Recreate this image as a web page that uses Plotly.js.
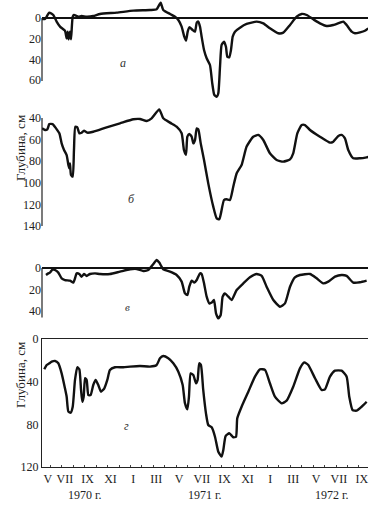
<!DOCTYPE html>
<html>
<head>
<meta charset="utf-8">
<script src="https://cdn.plot.ly/plotly-3.0.1.min.js"></script>
<style>html,body{margin:0;padding:0;background:#fff;}#chart{width:372px;height:510px;}</style>
</head>
<body>
<div id="chart"></div>
<script>
// x: months since May 1970 (0 = V 1970)
const xA = [0, 0.26, 0.64, 0.99, 1.28, 1.58, 2.01, 2.16, 2.25, 2.33, 2.45, 2.54, 2.69, 2.80, 3.18, 3.47, 3.91, 4.49, 5.08, 6.54, 8.0, 9.46, 10.04, 10.39, 10.62, 11.21, 11.65, 11.94, 12.23, 12.46, 12.61, 12.76, 12.9, 13.19, 13.4, 13.55, 13.69, 13.84, 13.98, 14.19, 14.42, 14.71, 14.91, 15.09, 15.3, 15.44, 15.59, 15.73, 15.94, 16.11, 16.23, 16.4, 16.55, 16.7, 16.9, 17.34, 17.92, 18.8, 19.38, 19.96, 20.69, 21.13, 21.72, 22.3, 22.74, 23.18, 23.76, 24.34, 24.93, 25.51, 26.09, 26.39, 26.68, 27.12, 27.41, 27.85, 28.28, 28.57];
const depthA = [1.0, 1.0, -5.2, -2.9, 3.5, 8.4, 12.3, 19.7, 13.2, 20.6, 13.2, 20.6, -1.3, -2.9, -1.3, -1.9, -1.3, -1.9, -3.9, -5.2, -7.1, -7.7, -8.4, -14.8, -7.7, -3.9, -1.3, 1.9, 8.4, 18.1, 21.9, 13.2, 9.0, 11.6, 13.2, 4.5, 3.5, 8.4, 18.1, 31, 39, 45.5, 63.2, 74.5, 76.2, 72.9, 47.1, 26.1, 22.9, 27.8, 37.4, 38.1, 31, 18.1, 13.2, 9.4, 5.8, 3.5, 5.2, 10, 14.8, 14.2, 6.8, -1.3, -3.9, -2.9, 1.3, 5.2, 7.7, 6.8, 4.5, 3.5, 6.8, 13.2, 14.8, 13.9, 12.3, 10.0];

const xB = [0, 0.26, 0.47, 0.64, 0.93, 1.23, 1.52, 1.72, 1.93, 2.16, 2.31, 2.39, 2.45, 2.54, 2.69, 2.80, 2.92, 3.09, 3.27, 3.47, 3.68, 3.97, 4.49, 5.66, 6.83, 8.0, 8.58, 9.17, 9.6, 10.27, 10.62, 11.21, 11.79, 12.23, 12.43, 12.61, 12.73, 12.9, 13.11, 13.25, 13.4, 13.55, 13.69, 13.9, 14.19, 14.56, 15.0, 15.3, 15.53, 15.67, 15.94, 16.17, 16.46, 16.75, 17.05, 17.48, 17.92, 18.5, 18.94, 19.38, 19.96, 20.55, 21.13, 21.72, 22.0, 22.36, 22.74, 23.03, 23.47, 24.34, 25.22, 25.51, 25.95, 26.24, 26.53, 26.82, 27.26, 27.85, 28.43, 28.72];
const depthB = [49.6, 51.1, 50.5, 45.6, 45.6, 49.6, 54.2, 63.5, 69.6, 74.3, 83.5, 86.6, 82, 92.8, 94.3, 69.6, 48, 48.6, 54.2, 53.6, 51.7, 53.6, 52.7, 48.6, 44.9, 41.2, 40.9, 42.8, 40.3, 32, 40.3, 44.3, 48, 54.2, 69.6, 74, 57.3, 54.8, 57.3, 63.5, 60.4, 49.6, 50.5, 63.5, 78.9, 100.5, 122.1, 132.9, 133.8, 128.3, 115.9, 115.3, 115.9, 103.6, 91.2, 83.5, 66.5, 57.3, 55.7, 60.4, 72.7, 78.9, 80.4, 78.3, 72.7, 54.2, 46.5, 46.5, 51.1, 57.3, 62.8, 61.9, 56.7, 55.7, 58.8, 69.6, 77.3, 77.3, 76.4, 75.7];

const xV = [0.35, 0.55, 0.70, 0.93, 1.14, 1.43, 1.72, 2.01, 2.45, 2.74, 2.89, 3.03, 3.27, 3.47, 3.68, 3.91, 4.2, 4.64, 5.08, 5.95, 6.83, 7.71, 8.29, 8.87, 9.31, 9.75, 10.04, 10.27, 10.62, 11.21, 11.79, 12.23, 12.52, 12.73, 12.9, 13.11, 13.34, 13.55, 13.84, 13.98, 14.19, 14.42, 14.65, 14.86, 15.06, 15.24, 15.44, 15.65, 15.82, 16.02, 16.32, 16.61, 17.05, 17.63, 18.21, 18.8, 19.24, 19.67, 20.26, 20.84, 21.28, 21.72, 22.15, 22.59, 23.47, 24.05, 24.63, 25.07, 25.66, 26.24, 26.68, 27.26, 27.85, 28.43];
const depthV = [6.5, 5.0, 4.3, 1.2, 1.9, 4.3, 9.6, 11.2, 11.8, 13.6, 9.6, 5.0, 5.6, 8.1, 5.6, 7.4, 5.6, 5.0, 5.6, 5.6, 3.4, 1.2, 0.9, 2.8, 1.9, -3.7, -7.4, -5.0, 1.2, 3.4, 6.5, 12.7, 23.6, 25.1, 17.4, 11.8, 13.6, 11.2, 5.0, 5.6, 14.3, 26.7, 32.9, 32.2, 29.8, 42.2, 46.8, 43.7, 26.7, 23.6, 26.7, 29.8, 20.5, 14.3, 8.7, 5.6, 7.4, 17.4, 29.8, 36.0, 32.9, 17.4, 8.7, 6.5, 5.6, 9.6, 14.3, 12.7, 8.1, 6.5, 7.4, 13.6, 13.3, 11.8];

const xG = [0.2, 0.41, 0.64, 0.85, 1.14, 1.43, 1.72, 2.01, 2.16, 2.31, 2.51, 2.69, 2.89, 3.09, 3.27, 3.42, 3.53, 3.65, 3.77, 3.91, 4.06, 4.26, 4.49, 4.7, 4.93, 5.17, 5.46, 5.72, 5.95, 6.39, 7.12, 7.71, 8.58, 9.46, 10.04, 10.33, 10.62, 11.06, 11.5, 11.94, 12.32, 12.52, 12.73, 12.87, 13.02, 13.25, 13.49, 13.63, 13.77, 13.92, 14.12, 14.36, 14.56, 14.86, 15.15, 15.44, 15.73, 15.88, 16.08, 16.4, 16.75, 16.99, 17.1, 17.48, 18.07, 18.65, 19.09, 19.53, 19.96, 20.4, 20.99, 21.42, 22.0, 22.59, 22.97, 23.32, 23.91, 24.49, 24.78, 25.22, 25.66, 26.24, 26.68, 26.91, 27.2, 27.55, 27.99, 28.43];
const depthG = [28.4, 24.4, 22.8, 21.3, 20.6, 22.8, 32.2, 46.2, 54.1, 68.1, 69.1, 63.5, 38.4, 26.5, 28.4, 47.8, 58.8, 54.1, 36.8, 38.4, 52.5, 52.5, 43.1, 38.4, 43.1, 49.4, 46.2, 38.4, 29, 26.5, 26.5, 25.9, 25.3, 25.9, 24.4, 18.1, 16, 18.1, 22.8, 30.6, 43.1, 60.3, 65.9, 54.1, 32.2, 33.7, 41.5, 38.4, 22.8, 24.4, 47.8, 69.7, 80.6, 82.8, 91.6, 105.7, 110.3, 104.1, 91, 88.4, 92.1, 91.6, 74.3, 63.5, 49.4, 35.3, 28.4, 29, 41.5, 54.1, 60.3, 57.8, 44.7, 27.5, 21.9, 24.4, 36.8, 47.8, 47.2, 35.3, 29.7, 29.7, 35.3, 54.1, 66.6, 67.2, 63.5, 58.8];

const monthTickVals = [0.5, 2, 4, 6, 8, 10, 12, 14, 16, 18, 20, 22, 24, 26, 28];
const monthTickText = ['V', 'VII', 'IX', 'XI', 'I', 'III', 'V', 'VII', 'IX', 'XI', 'I', 'III', 'V', 'VII', 'IX'];
const yearLabels = ['1970 г.', '1971 г.', '1972 г.'];
const yearPos = [3.77, 14.27, 25.39];
const panelLetters = ['а', 'б', 'в', 'г'];
const yTitle = 'Глубина, см';

const FONT = 'Liberation Serif, Times New Roman, serif';
const lineStyle = {color: '#111', width: 2.4, shape: 'spline', smoothing: 0.5};

const traces = [
  {x: xA, y: depthA, xaxis: 'x', yaxis: 'y', mode: 'lines', line: lineStyle, hoverinfo: 'skip'},
  {x: xB, y: depthB, xaxis: 'x', yaxis: 'y2', mode: 'lines', line: lineStyle, hoverinfo: 'skip'},
  {x: xV, y: depthV, xaxis: 'x', yaxis: 'y3', mode: 'lines', line: lineStyle, hoverinfo: 'skip'},
  {x: xG, y: depthG, xaxis: 'x', yaxis: 'y4', mode: 'lines', line: lineStyle, hoverinfo: 'skip'}
];

const tickFont = {family: FONT, size: 12, color: '#222'};
function yax(domain, range, tickvals, zero) {
  return {
    domain: domain, range: range, anchor: 'x', tickvals: tickvals,
    showgrid: false, zeroline: zero, zerolinecolor: '#111', zerolinewidth: 1.2,
    showline: false, ticks: '', tickfont: tickFont, fixedrange: true
  };
}

const letterFont = {family: FONT, size: 12, color: '#333', style: 'italic'};
const layout = {
  width: 372, height: 510,
  margin: {l: 42, r: 4, t: 0, b: 43},
  paper_bgcolor: '#fff', plot_bgcolor: 'rgba(0,0,0,0)',
  showlegend: false,
  font: {family: FONT, color: '#222'},
  xaxis: {
    domain: [0, 1], range: [0, 28.55], anchor: 'y4',
    tickmode: 'array', tickvals: monthTickVals, ticktext: monthTickText,
    ticks: '', showgrid: false, zeroline: false,
    showline: true, linecolor: '#222', linewidth: 1.2, mirror: true,
    tickfont: tickFont,
    minor: {tickmode: 'linear', tick0: 0.75, dtick: 1, ticks: 'inside', ticklen: 2, tickcolor: '#444', showgrid: false}
  },
  yaxis: yax([0.7816, 1], [81.3, -17.42], [0, 20, 40, 60], true),
  yaxis2: yax([0.5032, 0.7773], [145.56, 27.04], [40, 60, 80, 100, 120, 140], false),
  yaxis3: yax([0.3041, 0.4540], [53.02, -12.09], [0, 20, 40], true),
  yaxis4: Object.assign(yax([0, 0.2741], [120, 0], [0, 40, 80, 120], false), {showline: true, linecolor: '#222', linewidth: 1.2}),
  shapes: [
    {type: 'line', xref: 'paper', yref: 'y', x0: 0, x1: 0, y0: 0, y1: 61, line: {color: '#222', width: 1.2}},
    {type: 'line', xref: 'paper', yref: 'y2', x0: 0, x1: 0, y0: 40, y1: 140, line: {color: '#222', width: 1.2}},
    {type: 'line', xref: 'paper', yref: 'y3', x0: 0, x1: 0, y0: 0, y1: 46, line: {color: '#222', width: 1.2}}
  ],
  annotations: [
    {xref: 'x', yref: 'y', x: 7.09, y: 43.6, text: panelLetters[0], showarrow: false, font: letterFont},
    {xref: 'x', yref: 'y2', x: 7.88, y: 115, text: panelLetters[1], showarrow: false, font: letterFont},
    {xref: 'x', yref: 'y3', x: 7.53, y: 36.3, text: panelLetters[2], showarrow: false, font: Object.assign({}, letterFont, {size: 11})},
    {xref: 'x', yref: 'y4', x: 7.44, y: 81.5, text: panelLetters[3], showarrow: false, font: letterFont},
    {xref: 'paper', yref: 'paper', x: -0.0675, y: 0.683, xanchor: 'center', yanchor: 'middle', text: yTitle, textangle: -90, showarrow: false, font: {family: FONT, size: 13, color: '#222'}},
    {xref: 'paper', yref: 'paper', x: -0.0675, y: 0.197, xanchor: 'center', yanchor: 'middle', text: yTitle, textangle: -90, showarrow: false, font: {family: FONT, size: 13, color: '#222'}}
  ].concat(yearLabels.map((t, i) => ({
    xref: 'x', yref: 'paper', x: yearPos[i], y: -0.06, xanchor: 'center', yanchor: 'middle', text: t, showarrow: false,
    font: {family: FONT, size: 12, color: '#222'}
  })))
};

Plotly.newPlot('chart', traces, layout, {staticPlot: true, displayModeBar: false});
</script>
</body>
</html>
